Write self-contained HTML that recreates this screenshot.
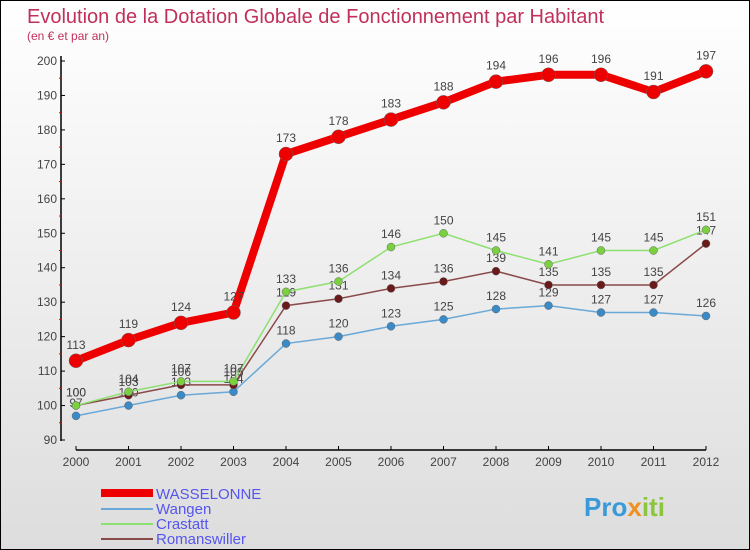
<!DOCTYPE html>
<html><head><meta charset="utf-8"><style>
body{margin:0}
#c{width:750px;height:550px;position:relative;box-sizing:border-box;border:1px solid #000;background:linear-gradient(#fff,#ddd);font-family:"Liberation Sans",sans-serif;overflow:hidden}
</style></head><body>
<div id="c">
<svg id="s" width="750" height="550" style="position:absolute;left:0;top:0">
<text x="26" y="22" font-size="20" fill="#c0305a">Evolution de la Dotation Globale de Fonctionnement par Habitant</text>
<text x="26" y="39" font-size="12" fill="#c0305a">(en € et par an)</text>
<g id="g"></g>
<g font-size="15" fill="#5555ee">
<rect x="100" y="488" width="52" height="8" fill="#e00"/>
<text x="155" y="498">WASSELONNE</text>
<rect x="100" y="507" width="52" height="2" fill="#6aa8d8"/>
<text x="155" y="513">Wangen</text>
<rect x="100" y="522" width="52" height="2" fill="#8ee070"/>
<text x="155" y="528">Crastatt</text>
<rect x="100" y="537" width="52" height="2" fill="#8a4a4a"/>
<text x="155" y="543">Romanswiller</text>
</g>
<text x="583" y="515" font-size="26" font-weight="bold" fill="#3a9ad9">Pro<tspan fill="#f09020">x</tspan><tspan fill="#8cc63f">iti</tspan></text>
</svg>
</div>
<script>
const years=[2000,2001,2002,2003,2004,2005,2006,2007,2008,2009,2010,2011,2012];
const wasselonne=[113,119,124,127,173,178,183,188,194,196,196,191,197];
const wangen=[97,100,103,104,118,120,123,125,128,129,127,127,126];
const crastatt=[100,104,107,107,133,136,146,150,145,141,145,145,151];
const romanswiller=[100,103,106,106,129,131,134,136,139,135,135,135,147];
const yTicks=[90,100,110,120,130,140,150,160,170,180,190,200];
const NS='http://www.w3.org/2000/svg';
const g=document.getElementById('g');
function X(i){return 75+i*52.5}
function Y(v){return 439-(v-90)*379/110}
function mk(t,a,p){const e=document.createElementNS(NS,t);for(const k in a)e.setAttribute(k,a[k]);(p||g).appendChild(e);return e}
let ax=mk('line',{x1:60,y1:55,x2:60,y2:440,stroke:'#000','stroke-width':1.5});


let bx=mk('line',{x1:75,y1:449,x2:705,y2:449,stroke:'#000','stroke-width':1.5});


yTicks.forEach(v=>{
 mk('line',{x1:60,y1:Y(v),x2:64,y2:Y(v),stroke:'#000'});
 if(v<200) mk('line',{x1:58,y1:Y(v+5),x2:61,y2:Y(v+5),stroke:'#e00'});
 const t=mk('text',{x:56,y:Y(v)+4,'text-anchor':'end','font-size':12,fill:'#444'});t.textContent=v;
 
 
});
years.forEach((y,i)=>{
 mk('line',{x1:X(i),y1:445,x2:X(i),y2:449,stroke:'#000'});
 const t=mk('text',{x:X(i),y:465,'text-anchor':'middle','font-size':12,fill:'#444'});t.textContent=y;
 
 
});
function series(name,data,color,w,r,dot){
 const pl=mk('polyline',{points:data.map((v,i)=>X(i)+','+Y(v)).join(' '),fill:'none',stroke:color,'stroke-width':w});
 
 
 data.forEach((v,i)=>{
  const c=mk('circle',{cx:X(i),cy:Y(v),r:r,fill:dot,stroke:'#666','stroke-width':0.5});
  
  
  const t=mk('text',{x:X(i),y:Y(v)-(r+5),'text-anchor':'middle','font-size':12,fill:'#444'});t.textContent=v;
  
  
 });
}
series('wangen',wangen,'#6aa8d8',1.5,4,'#3a8ac8');
series('romanswiller',romanswiller,'#8a4a4a',1.5,4,'#6a1a1a');
series('crastatt',crastatt,'#8ee070',1.5,4,'#7ad040');
series('wasselonne',wasselonne,'#e00',8,7,'#e00');
</script>
</body></html>
